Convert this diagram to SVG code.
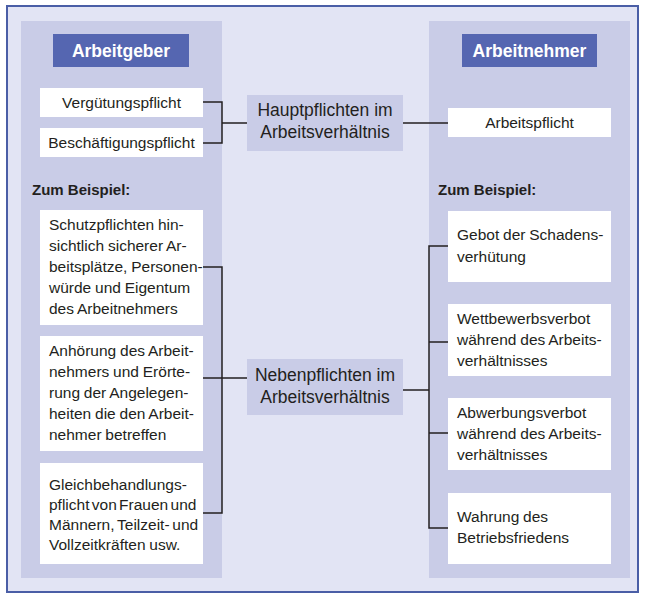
<svg xmlns="http://www.w3.org/2000/svg" width="653" height="599" viewBox="0 0 653 599">
<style>
.t{font-family:"Liberation Sans",Arial,sans-serif;font-size:15.5px;fill:#231f20;word-spacing:-0.5px}
.m{font-family:"Liberation Sans",Arial,sans-serif;font-size:17.5px;fill:#231f20;text-anchor:middle}
.c{text-anchor:middle}
.b{font-weight:bold;font-size:15px;word-spacing:0}
.h{font-family:"Liberation Sans",Arial,sans-serif;font-size:17.5px;font-weight:bold;fill:#ffffff;text-anchor:middle}
.box{fill:#ffffff}
.panel{fill:#c9cce7}
.hdr{fill:#5566b1}
.mid{fill:#c9cce7}
.ln{stroke:#231f20;stroke-width:1.5;fill:none}
</style>
<rect x="0" y="0" width="653" height="599" fill="#ffffff"/>
<rect x="7" y="6" width="631" height="586" fill="#e2e4f4" stroke="#4a5ea6" stroke-width="2"/>
<rect class="panel" x="21" y="21" width="201" height="557"/>
<rect class="panel" x="429" y="21" width="201" height="557"/>

<g id="connectors">
<path class="ln" d="M203 102H222V143H203M222 123H247"/>
<path class="ln" d="M403 123H448"/>
<path class="ln" d="M203 267H222V513H203M203 378H247"/>
<path class="ln" d="M403 390H429M448 246H429V528H448M429 342H448M429 433H448"/>
</g>

<g id="arbeitgeber">
<rect class="hdr" x="53" y="34" width="136" height="33"/>
<text class="h" x="121" y="57">Arbeitgeber</text>
</g>
<g id="arbeitnehmer">
<rect class="hdr" x="462" y="34" width="135" height="33"/>
<text class="h" x="529.5" y="57">Arbeitnehmer</text>
</g>

<g id="verguetung">
<rect class="box" x="40" y="88" width="163" height="29"/>
<text class="t c" x="121.5" y="107.5">Vergütungspflicht</text>
</g>
<g id="beschaeftigung">
<rect class="box" x="40" y="128" width="163" height="29"/>
<text class="t c" x="121.5" y="147.5">Beschäftigungspflicht</text>
</g>
<g id="hauptpflichten">
<rect class="mid" x="247" y="95" width="156" height="56"/>
<text class="m" x="325" y="116">Hauptpflichten im</text>
<text class="m" x="325" y="138">Arbeitsverhältnis</text>
</g>
<g id="arbeitspflicht">
<rect class="box" x="448" y="108" width="163" height="29"/>
<text class="t c" x="529.5" y="128">Arbeitspflicht</text>
</g>

<text class="t b" x="32" y="195">Zum Beispiel:</text>
<text class="t b" x="438" y="195">Zum Beispiel:</text>

<g id="schutz">
<rect class="box" x="40" y="210" width="163" height="115"/>
<text class="t" x="49" y="230">Schutzpflichten hin-</text>
<text class="t" x="49" y="251">sichtlich sicherer Ar-</text>
<text class="t" x="49" y="272">beitsplätze, Personen-</text>
<text class="t" x="49" y="293">würde und Eigentum</text>
<text class="t" x="49" y="314">des Arbeitnehmers</text>
</g>
<g id="anhoerung">
<rect class="box" x="40" y="336" width="163" height="115"/>
<text class="t" x="49" y="356">Anhörung des Arbeit-</text>
<text class="t" x="49" y="377">nehmers und Erörte-</text>
<text class="t" x="49" y="398">rung der Angelegen-</text>
<text class="t" x="49" y="419">heiten die den Arbeit-</text>
<text class="t" x="49" y="440">nehmer betreffen</text>
</g>
<g id="gleich">
<rect class="box" x="40" y="463" width="163" height="101"/>
<text class="t" x="49" y="490">Gleichbehandlungs-</text>
<text class="t" x="49" y="510" style="word-spacing:-2px">pflicht von Frauen und</text>
<text class="t" x="49" y="530" style="word-spacing:-1.5px">Männern, Teilzeit- und</text>
<text class="t" x="49" y="550">Vollzeitkräften usw.</text>
</g>
<g id="nebenpflichten">
<rect class="mid" x="247" y="359" width="156" height="56"/>
<text class="m" x="325" y="381">Nebenpflichten im</text>
<text class="m" x="325" y="403">Arbeitsverhältnis</text>
</g>

<g id="schaden">
<rect class="box" x="448" y="211" width="163" height="71"/>
<text class="t" x="457" y="240">Gebot der Schadens-</text>
<text class="t" x="457" y="262">verhütung</text>
</g>
<g id="wettbewerb">
<rect class="box" x="448" y="304" width="163" height="72"/>
<text class="t" x="457" y="324">Wettbewerbsverbot</text>
<text class="t" x="457" y="345">während des Arbeits-</text>
<text class="t" x="457" y="366">verhältnisses</text>
</g>
<g id="abwerbung">
<rect class="box" x="448" y="398" width="163" height="72"/>
<text class="t" x="457" y="418">Abwerbungsverbot</text>
<text class="t" x="457" y="439">während des Arbeits-</text>
<text class="t" x="457" y="460">verhältnisses</text>
</g>
<g id="betriebsfrieden">
<rect class="box" x="448" y="493" width="163" height="71"/>
<text class="t" x="457" y="522">Wahrung des</text>
<text class="t" x="457" y="543">Betriebsfriedens</text>
</g>
</svg>
